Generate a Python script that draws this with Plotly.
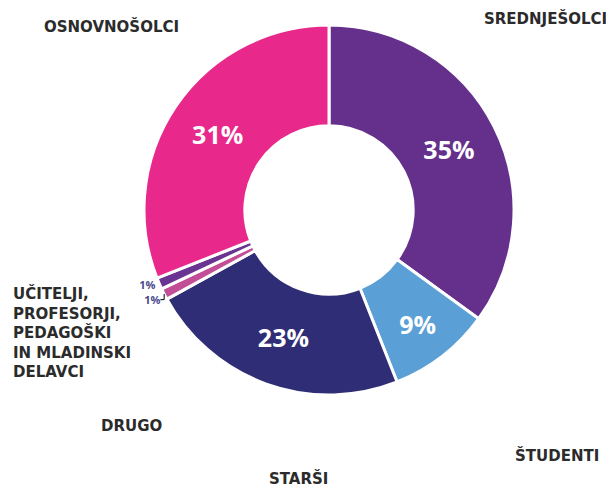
import plotly.graph_objects as go

categories = ["SREDNJEŠOLCI", "ŠTUDENTI", "STARŠI", "DRUGO",
              "UČITELJI, PROFESORJI, PEDAGOŠKI IN MLADINSKI DELAVCI", "OSNOVNOŠOLCI"]
values = [35, 9, 23, 1, 1, 31]
colors = ["#65308C", "#5A9FD6", "#302D77", "#C24E96", "#6A3592", "#E8288A"]

# page has an 8px body margin; map reference pixels to figure paper coords
W, H, OFF = 606, 481, 8
def px(x):
    return (x - OFF) / W
def py(y):
    return 1 - (y - OFF) / H

text_pos = ["inside" if v >= 5 else "outside" for v in values]
text_col = ["white" if v >= 5 else "#4B4A8E" for v in values]
text_sizes = [25 if v >= 5 else 11 for v in values]

fig = go.Figure(go.Pie(
    labels=categories,
    values=values,
    sort=False,
    direction="clockwise",
    rotation=0,
    hole=0.455,
    marker=dict(colors=colors, line=dict(color="white", width=3)),
    text=[f"{v}%" for v in values],
    textinfo="text",
    textposition=text_pos,
    insidetextorientation="horizontal",
    textfont=dict(family="Open Sans", color=text_col, size=text_sizes, weight="bold"),
    showlegend=False,
    domain=dict(x=[px(144), px(514)], y=[py(395), py(25)]),
))

lab_font = dict(family="DejaVu Sans", size=15, color="#2B2B2B", weight="bold")
anns = [
    dict(text="OSNOVNOŠOLCI", x=px(111), y=py(26), xanchor="center"),
    dict(text="SREDNJEŠOLCI", x=px(545), y=py(18), xanchor="center"),
    dict(text="UČITELJI,<br>PROFESORJI,<br>PEDAGOŠKI<br>IN MLADINSKI<br>DELAVCI", x=px(11), y=py(332),
         xanchor="left", align="left"),
    dict(text="DRUGO", x=px(131), y=py(426), xanchor="center"),
    dict(text="ŠTUDENTI", x=px(557), y=py(455), xanchor="center"),
    dict(text="STARŠI", x=px(298), y=py(478), xanchor="center"),
]
for a in anns:
    a.update(xref="paper", yref="paper", yanchor="middle", showarrow=False, font=lab_font)

fig.update_layout(
    width=W, height=H,
    margin=dict(l=0, r=0, t=0, b=0),
    paper_bgcolor="white", plot_bgcolor="white",
    annotations=anns,
)
fig.write_html("out.html")
